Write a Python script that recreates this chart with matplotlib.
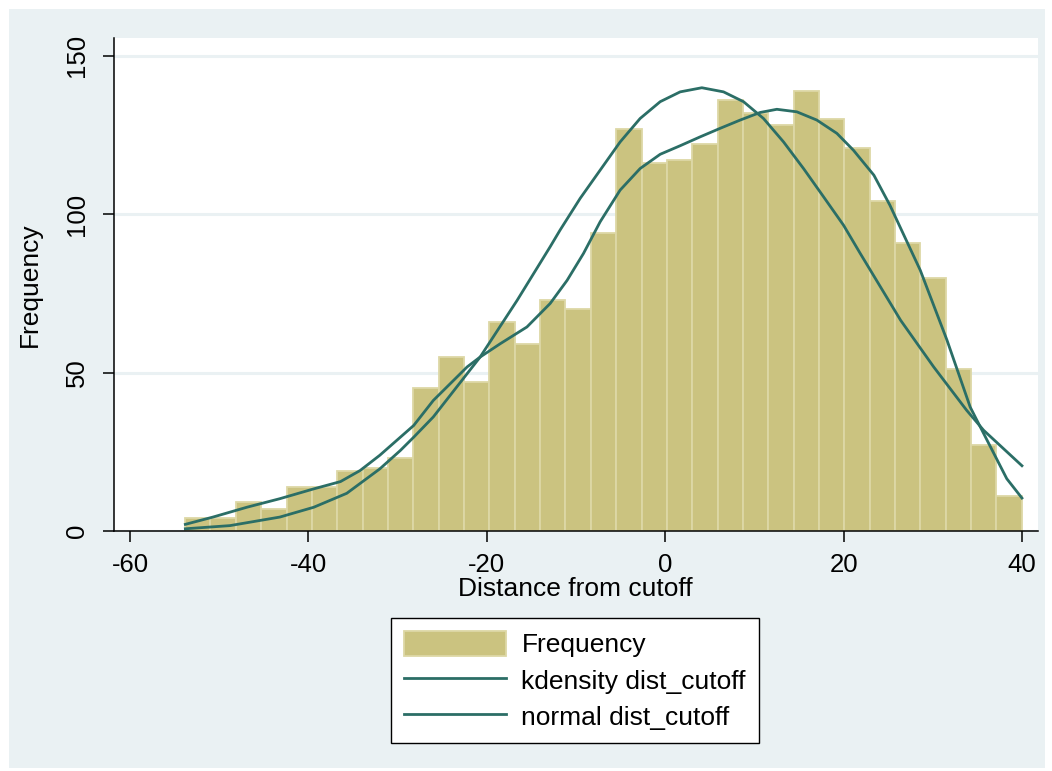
import matplotlib.pyplot as plt
import matplotlib.patches as mpatches
from matplotlib.lines import Line2D

plt.rcParams['font.family'] = ['Liberation Sans', 'DejaVu Sans']
plt.rcParams['axes.unicode_minus'] = False

# histogram of dist_cutoff (33 bins, Stata default)
bin_start = -53.83
bin_width = 2.843
counts = [4, 4, 9, 7, 14, 14, 19, 20, 23, 45, 55, 47, 66, 59, 73, 70, 94,
          127, 116, 117, 122, 136, 132, 128, 139, 130, 121, 104, 91, 80, 51, 27, 11]

# kdensity overlay
kde_x = [-53.8, -50.7, -46.9, -43.2, -39.4, -36.4, -34.2, -32.0, -30.1, -28.2,
         -26.0, -22.2, -20.75, -18.5, -15.5, -12.9, -11.0, -9.16, -7.29, -5.05,
         -2.81, -0.56, 1.68, 3.92, 6.17, 8.41, 10.65, 12.52, 14.76, 17.0,
         19.25, 21.1, 23.4, 25.2, 28.6, 31.6, 34.2, 36.1, 38.3, 40.0]
kde_y = [2.1, 4.4, 7.5, 10.2, 13.3, 15.6, 19.1, 23.9, 28.6, 33.3,
         41.2, 51.8, 54.9, 59.1, 64.4, 71.8, 79.1, 87.6, 97.6, 107.6,
         114.4, 118.9, 121.6, 124.4, 127.1, 129.7, 132.1, 133.1, 132.3, 129.7,
         125.5, 120.2, 112.3, 102.8, 82.3, 60.2, 39.1, 28.6, 16.5, 10.4]

# normal overlay
norm_x = [-53.8, -48.8, -43.2, -39.4, -35.7, -32.0, -29.7, -28.2, -26.0, -20.75,
          -16.6, -12.9, -11.78, -9.53, -7.29, -5.05, -2.81, -0.56, 1.68, 4.11,
          6.54, 8.78, 11.02, 13.27, 15.51, 17.75, 20.0, 21.87, 26.4, 30.1,
          33.8, 35.7, 40.0]
norm_y = [0.7, 1.7, 4.4, 7.5, 11.9, 19.6, 25.4, 29.6, 36.0, 54.9,
          72.8, 89.7, 95.0, 105.0, 113.9, 122.8, 130.2, 135.5, 138.6, 139.9,
          138.6, 135.5, 130.2, 122.8, 114.4, 105.5, 96.5, 87.6, 66.5, 51.8,
          38.1, 31.8, 20.6]

x_ticks = [-60, -40, -20, 0, 20, 40]
y_ticks = [0, 50, 100, 150]

bg = '#EAF1F3'
bar_color = '#CBC380'
bar_edge = '#DDD8A6'
line_color = '#2B6E66'

W, H = 1052, 771
fig = plt.figure(figsize=(W / 100, H / 100), dpi=100)
fig.patch.set_facecolor('white')
fig.patches.append(mpatches.Rectangle((9 / W, 3 / H), 1036 / W, 759 / H,
                                      transform=fig.transFigure, facecolor=bg,
                                      edgecolor='none', zorder=-10))

ax = fig.add_axes([114 / W, 1 - 531 / H, 924 / W, 493 / H])
ax.set_facecolor('white')

edges = [bin_start + i * bin_width for i in range(len(counts))]
ax.bar(edges, counts, width=bin_width, align='edge', color=bar_color,
       edgecolor=bar_edge, linewidth=1.3, zorder=2)
ax.plot(kde_x, kde_y, color=line_color, lw=2.0, zorder=3, solid_joinstyle='round')
ax.plot(norm_x, norm_y, color=line_color, lw=2.0, zorder=3, solid_joinstyle='round')

ax.set_xlim(-61.8, 41.8)
ax.set_ylim(0, 155.6)
ax.set_xticks(x_ticks)
ax.set_yticks(y_ticks)
ax.set_yticklabels([str(v) for v in y_ticks], rotation=90, va='center')
ax.tick_params(axis='both', length=8, width=1.1, labelsize=18.5, color='black')
ax.tick_params(axis='x', pad=8)
ax.tick_params(axis='y', pad=10)
ax.grid(axis='y', color=bg, linewidth=2.2, zorder=1)
ax.set_axisbelow(True)
for side in ['top', 'right']:
    ax.spines[side].set_visible(False)
for side in ['left', 'bottom']:
    ax.spines[side].set_linewidth(1.1)
    ax.spines[side].set_zorder(4)

fig.text(575 / W, 1 - 589 / H, 'Distance from cutoff', ha='center', va='center', fontsize=19)
fig.text(30 / W, 1 - 285 / H, 'Frequency', ha='center', va='center', rotation=90, fontsize=19)

handles = [mpatches.Patch(facecolor=bar_color, edgecolor=bar_edge, linewidth=1.3),
           Line2D([], [], color=line_color, lw=2.0),
           Line2D([], [], color=line_color, lw=2.0)]
labels = ['Frequency', 'kdensity dist_cutoff', 'normal dist_cutoff']
leg = fig.legend(handles, labels, loc='upper center', bbox_to_anchor=(575 / W, 1 - 618 / H),
                 fontsize=19, frameon=True, fancybox=False, framealpha=1,
                 edgecolor='black', handlelength=3.85, handleheight=1.05,
                 handletextpad=0.6, labelspacing=0.38, borderpad=0.5,
                 borderaxespad=0)
leg.get_frame().set_linewidth(1.0)

fig.savefig('out.png', dpi=100)
